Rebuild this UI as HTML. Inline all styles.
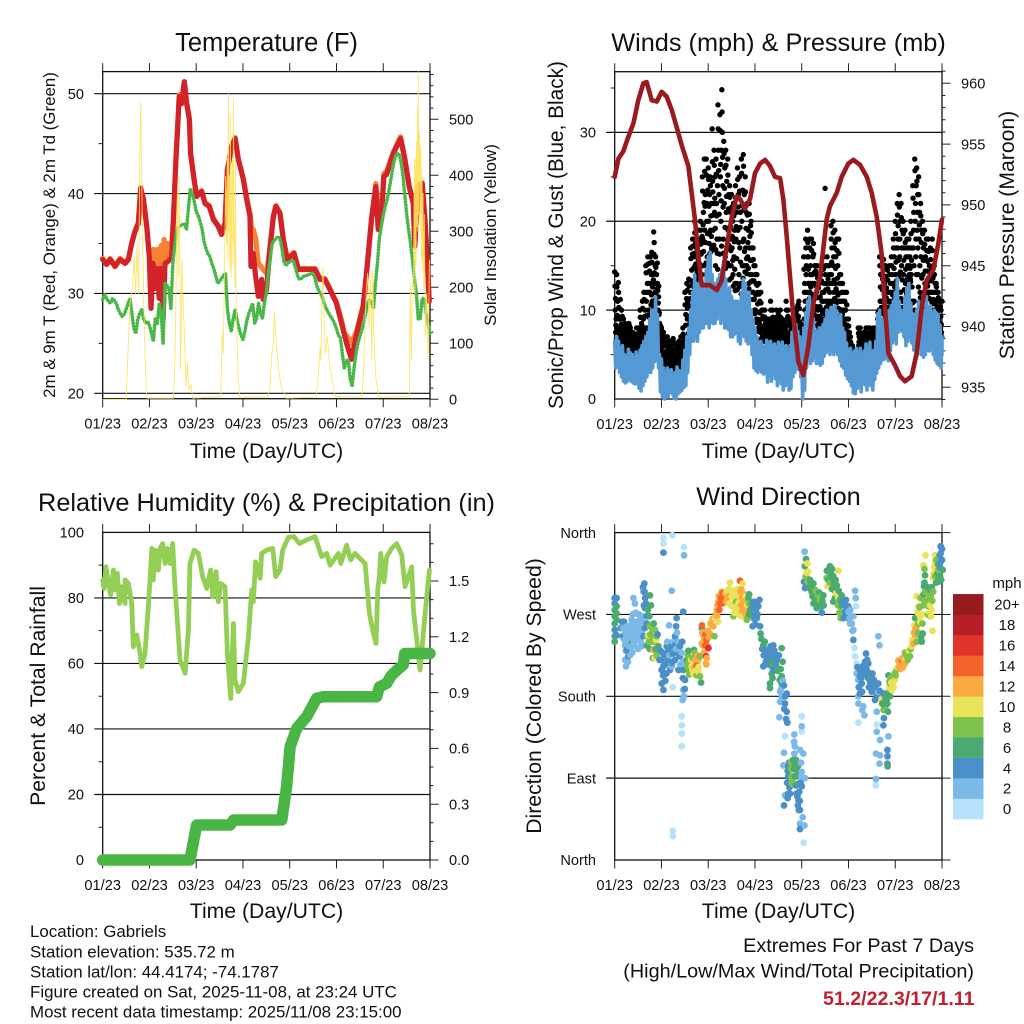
<!DOCTYPE html>
<html>
<head>
<meta charset="utf-8">
<style>
html,body{margin:0;padding:0;background:#fff}
svg{display:block}
text{font-family:"Liberation Sans",sans-serif;fill:#111}
</style>
</head>
<body>
<svg id="fig" xmlns="http://www.w3.org/2000/svg" width="1024" height="1024" viewBox="0 0 1024 1024">
<rect x="0" y="0" width="1024" height="1024" fill="#fff"/>
<text x="266.5" y="51" font-size="25.5" text-anchor="middle">Temperature (F)</text>
<text x="778.5" y="51" font-size="25.3" text-anchor="middle">Winds (mph) &amp; Pressure (mb)</text>
<text x="266.5" y="511" font-size="25.3" text-anchor="middle">Relative Humidity (%) &amp; Precipitation (in)</text>
<text x="778.5" y="505" font-size="25.3" text-anchor="middle">Wind Direction</text>
<text x="266.5" y="458" font-size="21.2" text-anchor="middle">Time (Day/UTC)</text>
<text x="778.5" y="458" font-size="21.2" text-anchor="middle">Time (Day/UTC)</text>
<text x="266.5" y="918" font-size="21.2" text-anchor="middle">Time (Day/UTC)</text>
<text x="778.5" y="918" font-size="21.2" text-anchor="middle">Time (Day/UTC)</text>
<text transform="translate(55,235) rotate(-90)" font-size="16.9" text-anchor="middle">2m &amp; 9m T (Red, Orange) &amp; 2m Td (Green)</text>
<text transform="translate(496,235) rotate(-90)" font-size="17" text-anchor="middle">Solar Insolation (Yellow)</text>
<text transform="translate(563,235) rotate(-90)" font-size="20.8" text-anchor="middle">Sonic/Prop Wind &amp; Gust (Blue, Black)</text>
<text transform="translate(1014,235) rotate(-90)" font-size="21.2" text-anchor="middle">Station Pressure (Maroon)</text>
<text transform="translate(45,696) rotate(-90)" font-size="21.2" text-anchor="middle">Percent &amp; Total Rainfall</text>
<text transform="translate(541,696) rotate(-90)" font-size="21.2" text-anchor="middle">Direction (Colored By Speed)</text>
<text x="30" y="937" font-size="16.9">Location: Gabriels</text>
<text x="30" y="957.5" font-size="16.9">Station elevation: 535.72 m</text>
<text x="30" y="977.5" font-size="16.9">Station lat/lon: 44.4174; -74.1787</text>
<text x="30" y="997.5" font-size="16.9">Figure created on Sat, 2025-11-08, at 23:24 UTC</text>
<text x="30" y="1017.5" font-size="16.9">Most recent data timestamp: 2025/11/08 23:15:00</text>
<text x="974" y="952" font-size="19.8" text-anchor="end">Extremes For Past 7 Days</text>
<text x="974" y="977.5" font-size="19.8" text-anchor="end">(High/Low/Max Wind/Total Precipitation)</text>
<text x="974.5" y="1005" font-size="19.6" font-weight="bold" text-anchor="end" style="fill:#c1202c">51.2/22.3/17/1.11</text>
<text x="1007" y="588" font-size="15" text-anchor="middle">mph</text>
</svg>
<script>
var xTickLabels=["01/23","02/23","03/23","04/23","05/23","06/23","07/23","08/23"];
var tempTicks=[20,30,40,50];
var solarTicks=[0,100,200,300,400,500];
var windTicks=[0,10,20,30];
var pressureTicks=[935,940,945,950,955,960];
var rhTicks=[0,20,40,60,80,100];
var precipTicks=[0,0.3,0.6,0.9,1.2,1.5];
var directionTickDegrees=[0,90,180,270,360];
var directionTickLabels=["North","East","South","West","North"];
var speedLabels=["0","2","4","6","8","10","12","14","16","18","20+"];
var speedColors=["#b8e2fa","#7cb9e8","#4b8fc8","#4baa72","#7ec24e","#e9e35a","#fbaa42","#f4632a","#e03329","#b71f28","#961c1f"];

var redHours=[0,2,3.8,6.3,8.9,11.5,13.2,14.9,16.6,18.3,19.5,20.9,22.6,23.9,24.8,25.8,27,28,29,30,31,32,33.5,35.4,36.3,37.6,39.3,40.5,41.9,43.1,44.5,45.1,46.9,48.2,50.8,52.5,54.7,56.8,59.3,61,62.8,64,65.3,66.2,68,69.6,72.2,73.9,75.6,76.1,77.3,78.5,79.9,81.6,82.4,84.1,85.8,87.6,88.9,91,92.7,94.7,98.2,100.4,104.7,109,111.5,114,116.6,120,122.6,125.2,127.7,130.3,133.7,135.4,138,140.2,141.4,143.1,144.3,145.7,149.1,152.9,155.1,157.3,159.4,160.2,161.9,164,165.4,166.6,167.6];
var redTemps=[33.4,32.9,33.4,32.7,33.4,33,33.4,35,36.2,37,40.5,39.4,36.7,33.7,28.5,33,30.5,32.5,29.5,32.5,27.4,33,33.2,33.6,37.4,43.4,49.7,49,51.2,49,47.4,44,41.4,39.7,40.2,39,38.7,37.4,36.7,35.9,37,42.4,43.7,44.7,45.5,43.4,41.4,39.4,37.7,32.7,34,31.7,29.7,31.4,29.4,30.4,34.4,37.7,38.7,38,35.4,33.4,34,32.4,32.4,32.4,31.4,31.4,30.4,29,27,25,23.4,25.9,28.7,32,37.4,40.7,36.4,37.7,41.7,41.9,44,45.5,43.4,40.7,39,34.7,40.7,41,37.4,33.4,29.2];
var orangeHours=[0,2,3.8,6.3,8.9,11.5,13.2,14.9,16.6,18.3,19.5,20.9,22.6,23.9,24.5,26,27,28,29,30,31,31.5,32.5,33,34,35.4,36.3,37.6,39.3,40.5,41.9,43.1,44.5,45.1,46.9,48.2,50.8,52.5,54.7,56.8,59.3,61,62.8,64,65.3,66.2,68,69.6,72.2,73.9,75.6,76.5,77.3,78.5,79.9,81.6,83.2,84.1,85.8,87.6,88.9,91,92.7,94.7,98.2,100.4,104.7,109,111.5,114,116.6,120,122.6,124,125.2,127.7,129,130.3,133.7,135.4,138,140.2,141.4,143.1,144.3,145.7,149.1,152.9,155.1,157.3,159.4,160.2,161.9,164,165.4,166.6,167.6];
var orangeTemps=[33.5,33,33.5,32.8,33.5,33.1,33.5,35.1,36.3,37.1,40.6,39.5,36.8,34,32,34.4,33,34.4,32.5,34.8,33,35.4,33.5,35,33.8,34.8,37.6,43.6,49.9,49.3,51.2,49.1,47.5,44.1,41.5,39.8,40.3,39.1,38.8,37.5,36.8,36,37.1,42.5,43.8,44.8,45.6,43.5,41.5,39.6,38,36.5,36.4,35.5,33,32.6,32.2,32,34.5,37.8,38.8,38.1,35.5,33.5,34.1,32.5,32.5,32.5,31.5,31.5,30.5,29.1,27.3,26,25.8,25,25.6,26.2,28.8,32.1,37.6,41,38.5,38,42,42.2,44.1,45.7,43.5,40.8,39.1,34.8,40.8,41.1,37.5,33.5,29.3];
var dewPointHourly=[29.4,29.9,29.5,29.2,29,29.5,29.3,29,28.4,28,27.7,27.9,28.4,29,29.5,28,26.5,26,27.4,28,28.4,27.5,27,27.2,26.8,26,25.2,27.5,27,29,28,25,31,30.8,30.5,28.5,33,34.8,36.4,36.7,36.8,36.9,37,36.4,38.5,40.5,40,39.2,38.2,37.8,37.2,36.5,35.2,34.5,34,33.7,33,32.5,31.8,31,31.2,31.5,31.8,32,28.5,27,26.2,27.5,28.4,27.3,26.5,25.8,25.4,26.2,27.3,28,28.5,29,27,27.5,29,28,27.5,29,30,32,33.5,35,35.3,35.5,35.7,35.5,34.5,33.2,32.8,33,33.2,33.3,33.2,32.5,31.8,31.4,31.5,31.7,31.8,31.8,31.9,32,32,31.5,30.7,30.2,30,29.4,28.8,28.4,28,27.7,27.4,27,26.5,25.8,25.6,24,22.5,23.2,23.4,21.5,20.7,22.5,24,25,25.7,26.3,27,28,29,29.4,29,28.5,31,33,35.5,36.7,37.8,38.7,39.4,40.4,41.5,42.7,43.6,44,44,43.3,42,40,38,36.4,35,33.4,31.5,30,27.4,27.5,29.5,29.5,28,27,26];
var solarHours=[0,12,14,15.4,16.1,16.9,17.6,18.5,19,19.5,20,20.5,21.2,21.9,22.6,36.3,37.1,37.6,38.3,38.8,39.3,40,40.7,41.4,42.1,42.8,43.5,44.3,45.3,46.2,60.6,61.3,61.9,62.6,63.1,63.6,63.9,64.2,64.5,64.8,65,65.3,65.5,65.8,66,66.3,66.6,66.9,67.1,67.4,67.6,67.9,68.1,68.4,69,69.5,70.3,84.7,85.9,86.8,87.6,88.1,89,89.7,90.5,91.9,93.1,94.1,109.5,110.7,111.6,112.1,112.6,113.1,113.8,114.3,115.3,116.3,117.5,119.3,132.9,133.8,134.6,135.3,136,136.7,137.4,138.1,138.6,139.3,140.3,141.7,157.4,157.9,158.4,158.9,159.6,160,160.3,160.6,160.8,161.1,161.3,161.6,161.8,162,162.2,162.4,162.7,162.9,163.1,163.4,163.6,163.9,164.1,164.4,164.8,165.1,165.3,165.6,166.3,167,167.7];
var solarWatts=[0,0,171,201,255,189,273,189,427,529,398,279,160,58,2,2,70,189,368,219,398,52,249,160,100,23,64,17,26,2,5,118,82,249,398,279,430,250,546,300,400,230,505,260,219,410,427,240,534,280,308,200,427,189,100,40,4,4,23,82,100,157,100,76,46,20,11,2,4,40,94,70,189,237,130,82,112,70,40,5,4,40,130,195,225,130,225,70,231,100,35,4,5,207,70,195,225,427,189,430,240,460,308,520,300,585,330,480,469,300,450,427,250,400,230,368,195,330,240,112,189,70,249];

var gustPerQuarterHour=[
14.3,10,7.5,9, 14,8,11,7.5, 12,9,7,8, 9,7,10,6, 8,6.5,9,6, 7,8.5,6,5.5, 8,6,7,5.5, 6.5,8.5,5.5,7, 8,6,5.5,7, 6,7.5,5.5,6.5,
7,5,6,4.8, 6,8,5.5,7, 5.5,8,6.5,5, 10,7,6,8.5, 7.5,11,6.5,9, 12,8,10,7, 15,11,8,13, 16,10,13,8, 12,16,9.5,14, 16.5,11,14,10,
18.8,17.6,13,15, 16,12,14,11.5, 13,10,11.5,9.5, 8.5,6,7,5.5, 8,5,6.5,4.5, 7.5,4.5,6,3.5, 7,5,3.5,6, 7,4,5.5,3.5, 6.5,3.5,5,4, 6.5,4.5,5.5,3.5,
6.8,3,5,4, 6.3,4,3,5, 6,4,5,3.5, 6.5,5,3.5,4.5, 7,4,5.5,3.5, 8,5,6.5,4.5, 12,7,9.5,5.5, 13,9,11,7, 13.5,10.5,8,12, 17,12,14.5,10,
18,13,16,12, 20,15,17.5,14, 17,13.5,15,14, 19,14,16.5,12.5, 20,15,17.5,14, 25,18,21,15, 27,19,23,14, 27,20,16,23.5, 26,20,17.5,23, 25,19,22,17,
30.4,24.5,19,22, 28,21,25,15, 27,22,18,24, 33.1,28,23,18, 32,25,20,28, 34.8,30,24,18, 29,22,26,16, 28,21,24.5,17, 27,19,23,15, 24,18,21,15,
23,17,20,14, 22,16,19,13, 24,18,21,13, 26,19,23,14, 25,17,21,13, 27,20,15,23.5, 27.5,18,23,15, 25,17,21,15, 22,16,19,13, 22,17,14,19.5,
20,14,17,12, 17,12,15,10, 15,10,13,9, 14,9,12,8, 13,8.5,11,7.5, 12,8,10,7, 10,7,9,6.5, 10,7.5,8.5,6.5, 9,7,8,7.5, 9,6.5,8,7,
11,7,9,6.5, 10,7,8.5,7, 9,6.5,8,7.5, 10,6.5,8.5,7, 9.5,7,8,6, 10,7,8.5,6.5, 9,6.5,8,7, 8.8,7,8,6.5, 11,7.5,9,6.5, 10,6,8.5,6,
9,6.5,8,6.5, 9,7.5,8.5,8, 8,7,9,8.5, 9,8.5,10,9, 7.5,8,11,10.2, 7,5.5,8,6, 5,4,3,2, 16,9,13,11, 18,14,10,16, 19,13,16,12,
18,12,15,13, 18,11,14,16, 17.5,10,13,15, 15,9,12,14, 15,10,12.5,8.5, 14,9,11.5,8.5, 14,10,12,9, 16,11,13,9, 23.7,15,11,13, 16,11,13.5,10,
15,11,13,10, 19.5,14,17,11, 20,15,12,17, 19,13,16,11, 18,12,15,11, 18,11,14,10, 14,10,12,9.5, 13,9,11,8.5, 12,8,10,7.5, 12,7,9,6.5,
9,6,7.5,5.5, 7,5,6,5.5, 6,4.5,5.5,3.5, 5,3.5,4.5,2.5, 5,4,4.5,3, 8,6,7,5, 8,5.5,7,5, 7,5,6,4, 7.5,5.5,6.5,4.5, 8,6,7,5.5,
8,6,7,5, 8,6,7,5.5, 7.5,5.5,6.5,5, 8,6,7,5.5, 8,6.5,7.5,6, 9,6,8,10, 16,11,14,10, 16,11,13.5,10, 15.7,10,13,12, 15,10,12.5,9,
14.5,10,12,9.5, 15,11,13,10.5, 16,12,14,11, 18,13,16,12, 20,14,17,12.5, 22,17,19.5,14, 23,16,20,12, 22,15,19,11, 20,14,17,10, 19,13,16,12,
18,13.5,16,13, 18,14,16,13.5, 20,14,17,11, 24,17,21,11, 27,20,16,24, 26,19,23,14, 25,18,21,12, 22,16,19,11, 20,14,17,10, 19,13,16,11,
18,13,15.5,12, 18,12,15,10, 17,12,14.5,11, 18,12,15,10, 15,11,13,10, 13,10,12,9.5, 12,9,11,8, 11,8,10,7.5, 11];
var gustOffsetReadings=[
12.7,11.3,8.3,6.8, 12.6,9.4,6.7,13.1, 10.3,7.7,6.3,11.2, 7.6,8.4,6.4,9.3, 7.3,5.7,8.3,6.8, 7.6,6.4,5.2,8.2, 6.6,7.4,5.2,7.8, 7.8,6.2,8.2,5.8, 6.4,7.4,5.7,6.7, 6.6,5.3,7.1,5.8,
6.4,5.4,5.7,6.8, 7.3,5.6,6.3,5.2, 7.2,6.1,5.3,7.6, 9.2,7.7,6.3,8, 8.2,10.2,7,6.4, 11.2,9.3,7.6,6.7, 14.2,12,9.4,7.3, 15.2,12,9.2,14.4, 15.3,13,10.6,11.7, 15.4,12.6,10.4,13.4,
16.3,14.2,12,11.2, 14.8,13,12.4,15.3, 12.2,10.8,12.7,9.7, 7.7,6.4,8.2,5.2, 7.3,5.8,4.7,6.9, 6.7,5.2,3.8,4.2, 6.2,4.3,5.4,3.2, 6.4,4.6,3.2,5.1, 5.7,4.2,3.3,6.1, 5.2,6.1,3.8,4.3,
6.3,4.6,3.4,5.6, 5.6,4.4,3.3,5.2, 5.3,4.6,3.8,5.7, 5.7,3.8,4.2,6.2, 6.3,4.6,3.3,5.2, 7.3,5.7,4.8,6.2, 10.6,8.3,6.3,11.3, 12.2,10.2,8.3,7.4, 12.7,9.3,11.3,8.6, 15.8,13.3,11.2,16.3,
17.2,14.7,12.6,16.4, 18.7,16.3,15.2,14.6, 16.2,14.4,13.3,15.7, 18,15.3,13.3,17.4, 19,16.3,15,18.3, 23.4,19.6,16.6,22.1, 25.6,21.7,17.6,15.3, 25.2,22,18.6,15.2, 24.7,21.7,18.7,16.4, 24,20.6,18.3,16.7,
26.7,23.3,20.7,17.3, 26.3,22.6,19.2,16.8, 25.3,20.6,16.4,14.6, 30.4,25.7,20.8,16.3, 30.2,26.4,22.3,17.2, 32.3,27.2,21.6,16.4, 27.6,23.7,19.3,14.7, 26.3,22.8,19.2,15.3, 25.2,21.4,17.3,13.4, 22.7,19.4,16.7,13.6,
21.6,18.3,15.6,12.7, 20.6,17.7,14.6,12.2, 22.6,19.4,15.8,12.3, 24.7,21.6,17.6,12.6, 23.4,19.3,15.4,11.8, 25.4,21.8,17.7,13.6, 26.2,21.3,16.6,14.3, 23.3,19.2,15.8,14.1, 20.7,17.6,14.7,12.4, 20.8,18.3,15.6,13.2,
18.7,15.6,13.3,11.2, 15.7,13.3,11.2,9.6, 14,11.7,9.8,8.6, 12.8,10.7,8.7,7.6, 11.8,9.7,8,6.7, 10.8,9,7.6,6.8, 9.3,7.8,6.7,8.3, 9.2,8,6.7,7.1, 8.4,7.3,7.7,6.9, 8.3,7.4,6.8,8.6,
10,8.2,7.4,6.8, 9.2,7.7,6.4,8, 8.6,7.2,6.8,7.7, 9.2,7.7,6.2,6.7, 8.7,7.4,6.6,9, 9.2,7.7,6.3,8.3, 8.3,7.4,6.6,7.7, 8.3,7.3,6.2,7.7, 10,8.3,7,9.3, 9.2,7.4,5.6,6.6,
8.4,7.3,6.3,7.7, 8.7,8.2,7.7,9.2, 9.7,8.3,9.3,8.8, 9.6,9.3,10.3,8.8, 10.6,9.3,7.8,8.7, 7.6,6.7,7.3,8.4, 4.4,3.3,2.4,1.2, 14.6,12,10,8.4, 17,15,12,10.3, 17.6,14.6,13,11.3,
17,14,12.6,11.8, 16.7,13,11.6,9.8, 16.3,14.2,11.6,9.4, 14.4,12.7,10.4,8.3, 13.6,11.4,9.3,7.9, 13,10.4,9,8.2, 13.3,11,9.6,8.4, 14.6,12,10,8.8, 14,12.3,10.3,9.4, 15,12.4,10.7,9.7,
14,12,10.6,9.9, 18,15.4,13,11, 18.7,16,13.4,11.3, 17.6,14.7,12.4,10.8, 16.7,13.6,11.7,10.2, 16.4,13,11,9.4, 13,11,10,9.7, 12,10,9,8.2, 11,9,8.3,7.7, 10.6,8.3,7.4,6.6,
8.2,6.7,5.8,5.6, 6.4,5.7,5.3,5.9, 5.7,5,3.9,4.2, 4.7,4,3,3.7, 4.7,3.7,4.2,3.3, 7.4,6.4,5.5,6.8, 7.4,6.3,5.3,6.7, 6.4,5.4,4.6,5.7, 7,6,5,6.3, 7.4,6.4,5.7,6.8,
7.4,6.4,5.5,6.8, 7.4,6.5,5.8,6.8, 7,6,5.3,6.2, 7.4,6.3,5.8,6.8, 7.7,7,6.3,6.8, 9.7,8.6,7,6.6, 15,12.6,11,10.3, 15,12.3,11,9.6, 14.6,11.7,10.6,9.3, 13.8,11.4,9.7,8.3,
13.4,11,10.3,9.2, 14,12,11,10.2, 15,13,11.7,10.7, 17,14.7,12.6,11.3, 18.6,15.4,13.3,12.2, 20.7,18,15.6,13.8, 21.6,18,14.3,11.3, 20.4,17,13.4,10.3, 18.6,15.6,12.3,9.8, 17.6,14.6,13,11.7,
17,15,13.8,12.7, 17,15,14.7,13.2, 18.6,15.6,12.6,10.8, 22.6,19,15,10, 25.7,22,18,14, 24.5,21,17,12.6, 23,19.6,15,11.4, 20.6,17.6,13.6,10.2, 18.6,15.6,12,9.7, 17.4,14.4,12,10.2,
16.7,14.4,12.7,11.4, 16.6,13.7,11.3,9.7, 15.7,13.3,12,10.7, 16.7,13.6,11.2,9.3, 14,12,10.7,9.4, 12.6,11,10.4,8.9, 11.4,10,8.6,7.7, 10.4,9.3,8.4,7];
var windHighHourly=[6.5,7,6.5,5.5,6,5,4.8,5.6,5.2,5,4.5,5.3,4.8,5.5,6,6.5,7,7.5,9,10,10,11.5,9.5,5,4.5,3.5,2.8,3.5,3.2,3.3,2.8,3,3.6,3.2,3,4.4,5.5,7,8,10,12,14,13,12,14,13,12.5,14.5,16,16.5,14,13,13,13.5,14,14.5,14.3,13.5,12,12.5,11.5,11,11,11,10.5,12,13.5,13,11.5,12,10,9,8,7,6,6.5,6,5.8,6.6,6.3,6.5,6,6.2,5.5,6.4,6,6.4,5.9,6,5,6,7.5,8,8.4,7.6,7,4,8,9.7,11,11.5,9.5,9,7.7,7.5,8,8,8.4,9,10,9.7,10.3,10.3,10.5,9.9,9,9.5,8,7.5,6.3,5.5,5.7,5,5.4,5.7,5.2,5.7,5,5.4,6.2,5.7,6.4,5.2,5.5,6.5,9.6,10,9,9,8,9,10,10.5,11,12,13.6,11,10,9.5,11.5,12.5,13,10.8,9.5,9.5,10,11,10,9.5,10,11.5,9.5,10.5,9,10,9.7,9.5,8.3,7];
var windLowHourly=[3.5,3.8,3,2.5,2,1.8,2,2.2,2,1.8,1.7,1.8,1.2,0.9,1.5,2,2.5,3,3,3.5,4.2,4.5,3.5,0.8,0.3,0,0.2,0.3,1,0.6,0.1,0,0.6,0.8,1,1.3,1.5,3,5,6.5,6.5,7,6.5,7.5,8,8,8.5,8.5,8,8.7,8.5,8.5,9,9.5,8.5,9,8,8,7.8,7,7,7.3,7.5,6.5,6.2,7.2,7,6.5,6.2,6.3,5,3.5,3.2,3,3.3,3,2.8,3,1.9,3.2,2,3,2.3,1.5,2.7,1.7,1,1.5,2,1,1.2,2.5,3,3.5,3.3,2.5,0,1,3.5,5,4,4.3,5,4,4,3.8,4,4.8,5.2,5.5,5,5.4,5,5.4,5,4.3,3.7,3.5,2.7,2.3,2,1.5,0.7,0.6,1.2,1.6,0.8,2,1.6,1,2,1.5,1,2.2,2.9,3.5,4,4.4,4.5,4.7,4.3,5.4,6.3,6.7,6.2,7.5,7.8,7.6,7,6,6.5,7,6.3,5.5,5.3,5,6.2,5,4.7,5,5.5,5.4,6,5,4.4,4,3.8,3.5,5];
var pressureHours=[0,1.9,4.4,7,9.6,12.1,14.7,16.4,19,21.6,24.1,26.7,29.3,31.8,34.4,37.8,39.5,41.2,42.9,44.7,48.9,52.4,54.9,57.5,60.1,62.6,64.3,66.9,69.5,72,74.6,77.2,79.7,82.3,84.9,86.6,88.3,90,91.7,94.3,96.8,99.4,102,105.4,108.8,110.5,114,116.5,119.9,122.5,125.9,129.4,131.9,134.5,137,138.8,140.5,143.9,146.5,149,152.4,155,157.6,160.1,163.6,166.1,168];
var pressureValues=[952.3,953.8,954.4,955.6,956.7,958.6,960,960.1,958.6,958.5,959.3,958.9,957.8,956.4,954.9,953.2,951,948.8,945.8,943.4,943.4,943,943.8,946.6,949,950.7,950.5,949.7,950.5,952.6,953.4,953.7,953.2,952.3,952.2,950.4,947.4,944.1,940.8,937.1,936,938.4,941.9,944.1,948.8,949.9,951,952.3,953.4,953.7,953.3,952.3,951,949,946,941.4,937.8,936.8,935.9,935.5,935.9,937.8,941.6,943.8,944.7,946.8,948.8];

var rhHours=[0,0.7,1.7,2.9,4.1,5.5,6.3,7.5,8.6,9.8,11.5,11.5,13.2,14.9,15.7,17.5,19.2,20,21.7,23.4,24.3,25.2,26,26.9,28.6,29.4,30.8,32,33.2,34.6,35.9,37.1,38.3,39.7,42.3,44,44.8,46.9,49.1,51.3,53.4,55.4,56.5,58.2,59.4,60.6,62.8,64,65.7,67.1,67.9,69.6,72.2,74.8,76.5,77.3,78.5,80.8,81.6,84.2,87.3,88.8,91,92.4,95.3,98.2,101,104.7,109,112.4,115,116.7,121,122.2,125.2,127.3,129.5,134.7,136.9,138.9,140.3,141.2,142,142.7,144.4,145.8,148.3,150.9,153.5,155.2,158.6,159.5,162.9,165.5,167.7];
var rhValues=[85.5,82.9,89.5,84.4,80.9,88.5,82.4,87.5,78.3,83.4,78.3,85.5,84.4,78.3,65.1,68.7,63,59,63,77.3,85.5,95.1,85.5,94.6,88.5,95.1,96.6,90.5,95.1,90.5,96.6,83.4,73.2,61,57,70.2,90.5,94.6,93.6,86.5,82.9,88.5,80.4,88,78.8,84.4,83.4,63,49.3,72.2,54.9,51.4,53.9,68.2,82.4,78.8,91,86,93.6,94.6,95.1,86.5,88.5,94.6,98.5,98.7,96.6,97.7,98.7,92.6,93.6,90,93.6,90.5,96.1,91.6,93.6,90.5,75.3,69.2,66.1,82.9,86.5,93.6,84.9,92.6,95.1,96.6,93.1,83.4,89.5,76.3,58,75.3,88.5];
var precipHours=[0,44.8,48.2,65.4,67.1,91.9,94.4,96.2,99.6,104.7,109.8,113.3,140.6,142,145.8,148,151,154.3,155,168];
var precipInches=[0,0,0.188,0.188,0.215,0.215,0.394,0.609,0.708,0.771,0.869,0.878,0.878,0.93,0.95,0.99,1.02,1.05,1.11,1.11];

var dirHours=[
0,0,0,0,0,0,0,0,1,1,1,1,1,
3.1,4.1,4.4,5.3,5.3,6.2,5.8,7,8.7,8.7,9.6,10.4,11.3,11.3,13,13.9,10.4,12.1,8.7,7,10.4,12.1,13.9,14.7,15.6,15.2,15.6,16.4,14.7,13.9,7.9,9.6,7.9,13,10.4,6.2,
18.1,18.6,17.8,18.1,17.3,19,20.7,21.2,19,19.8,20.4,22.4,21.6,16.4,
24.1,25,25.8,25,24.1,26.7,27.5,28.4,31,31,31.8,31.5,31,33.5,33.5,35.2,27.9,29.8,32.7,35.2,35.2,34.9,34.4,34.4,34.4,34.4,36.1,29.8,25,25,25,29.6,35.6,35.6,29.3,29.8,29.8,26.7,29.3,24.1,
37,37.3,38.3,39.5,41.2,42.1,42.9,40.7,42.9,43.8,44.3,40.4,43.8,39,40.4,
44.8,44.7,45.5,44.7,47.2,48.1,46.9,46.9,47.2,48.9,50.6,51.2,51.5,46.4,
52.4,53.2,54.1,53.7,55.8,56.6,58.3,59.2,60,54.9,52.7,57.5,54.9,
61.8,63.5,64.3,65.7,66,66.9,67.8,62.6,60.9,65.2,67.8,69.5,70.3,68.6,72,73.7,74.3,70.8,72.9,60,63.5,66,65.2,61.8,64.3,
74.6,74.9,76.3,77.2,78,76.3,81.4,82.3,80.6,80.6,79.7,79.7,83.2,85.7,86.2,85.7,85.7,84.9,88.3,87.4,88.3,84.9,84.5,88.6,86.9,
87.4,86.9,86.6,89.1,89.1,90.9,90.9,92.6,94.3,93.4,94.3,89.1,87.4,86.9,93.4,94.3,95.1,96,95.1,96.8,96,96,96,92.1,92.2,96.5,95.1,97.4,95.1,97,97.7,96,
97.5,98.2,98.9,99.4,97.2,97.7,100.3,102,102.8,101.1,103.7,105.4,106.3,102,107.1,103.7,106.3,
110.5,110.5,108.8,112.2,114.8,109.2,112.2,114,113.6,114.8,116.5,115.7,112.2,116,118.7,119.9,119.9,118.2,
123.4,123.7,123.9,122.5,121.7,122.5,122.5,123,123.4,124.2,
124.2,125.9,126.8,125.9,125.1,127.6,128.2,125.1,129,130.2,129.4,131.9,132.8,131.9,135.3,135.3,133.6,135.3,135.9,134.5,
137,137.9,138.8,139.6,134.5,134.5,136.2,138.2,137.9,140.5,134.1,136.2,135.9,140,140,140,140.1,134.1,134,141.3,
140.5,141.3,143,143.9,142.2,141,144.7,146.5,147.3,149,149.9,151.6,152.4,154.2,155,155.9,156.7,155.9,155,158.1,157.6,154.2,158.4,161,161.9,162.7,161.9,163.1,158.4,159.3,158.8,161,163.6,164.4,164.4,166.1,167.3,167.3,167.3,167,168.4,166.1];
var dirDegrees=[
288,282,275,268,260,253,246,240,288,279,271,264,247,
255,246,255,236,220,231,213,224,264,246,288,282,271,253,264,249,235,242,238,249,260,257,268,295,288,304,277,268,246,235,225,253,255,249,247,257,
291,280,268,257,247,255,253,242,240,231,222,235,246,236,
220,213,205,187,194,235,220,209,236,220,266,257,246,235,224,273,258,227,209,209,187,176,158,148,139,125,198,190,354,348,338,357,344,335,296,32,26,227,213,209,
220,213,209,213,220,214,220,231,207,202,195,205,224,216,214,
258,255,247,238,242,233,224,216,222,249,257,246,266,236,
275,284,291,275,291,286,290,305,279,282,280,295,295,
286,293,307,304,293,282,275,277,268,268,264,275,282,288,269,279,286,257,266,290,282,277,288,277,275,
257,249,236,231,224,213,236,224,213,205,194,189,220,233,218,202,194,185,183,172,163,174,157,151,192,
136,118,104,103,92,92,84,104,104,92,84,73,71,60,73,66,55,97,121,117,141,158,147,130,117,47,40,38,34,19,90,81,
339,331,326,317,306,299,308,304,297,295,290,286,279,282,291,277,272,
323,313,310,312,318,301,299,302,293,288,291,279,284,266,286,279,266,273,
296,288,279,268,260,253,242,233,224,216,
205,202,194,183,172,169,159,151,227,216,209,202,194,185,194,185,176,246,236,163,
177,183,169,174,149,141,132,156,148,136,117,115,106,121,114,106,103,89,82,180,
203,194,202,198,187,189,209,216,220,216,224,224,235,247,257,260,268,279,290,249,240,266,280,286,297,275,268,252,324,313,301,279,315,335,326,319,345,337,328,312,319,306];
var dirSpeeds=[
4,5,6,6,6,5,6,7,4,6,6,6,4,
4,4,3,3,3,4,2,4,2,3,2,2,3,2,2,3,3,3,6,2,2,2,3,3,4,4,4,4,4,2,2,2,2,2,2,2,
6,6,7,8,10,8,8,10,8,12,10,7,8,6,
4,4,4,4,4,4,4,4,4,4,4,4,4,4,4,4,2,4,4,4,3,3,1,1,1,1,4,1,0,0,4,0,1,3,2,0,0,4,3,4,
7,8,9,10,13,14,12,6,10,8,7,10,8,8,10,
15,6,12,12,14,17,17,12,12,12,12,8,11,14,
12,12,13,15,15,15,12,10,10,14,13,10,12,
10,10,14,10,12,12,12,10,8,10,8,7,6,6,5,4,4,4,4,10,10,12,12,10,10,
4,6,6,4,4,4,4,4,6,6,6,6,4,6,6,6,6,3,4,4,4,3,3,4,4,
1,3,3,4,4,8,8,6,6,6,6,4,3,4,4,4,4,3,3,2,1,1,2,2,3,3,3,2,4,1,3,4,
3,6,10,10,4,4,7,7,6,7,7,8,6,6,7,6,5,
6,8,8,7,10,10,6,6,10,10,6,8,6,8,4,4,4,5,
3,2,1,3,3,3,4,1,1,1,
3,4,4,4,3,3,3,1,4,4,4,7,4,4,4,3,4,3,3,3,
10,4,7,6,1,2,2,4,4,3,3,2,3,4,4,4,6,3,1,7,
7,8,9,10,10,10,8,13,15,12,8,9,10,12,13,9,10,10,10,7,7,6,8,8,7,10,8,10,10,7,7,8,10,10,10,8,4,4,4,6,6,6];
var dirExtraHourDegreeSpeed=[
3.8,262,4, 5,242,3, 5.8,230,3, 6.7,240,2, 7.4,235,3, 7.8,245,2, 8.2,258,2, 8.8,235,2, 9.2,270,2, 9.5,262,2, 10,240,3, 10.8,272,2, 11,262,2, 11.7,246,2, 12.5,270,2, 12.8,255,2, 13.3,240,2, 12,232,3, 9,228,3, 6.8,218,3, 4.8,262,4, 5.5,250,3, 6,248,3,
14.5,300,4, 15,280,4, 15.3,295,4, 16,282,4, 16.5,260,5, 15.4,255,4, 14.2,262,3,
17,275,6, 17.5,258,7, 18.3,248,8, 18.6,240,8, 18,232,7, 19.4,245,8, 20,260,7, 20.2,240,9, 21,232,7, 21.5,225,8, 19.6,222,6, 22,248,5, 16.8,246,8, 17.6,240,9,
23,220,4, 23.5,230,4, 24.5,228,4, 25.5,225,4, 26,215,4, 26.5,205,4, 27,240,3, 27.5,230,4, 28,225,3, 29,235,4, 29.5,217,4, 30,240,3, 30.5,228,4, 31.5,232,3, 32,250,3, 32.5,240,3, 33,226,4, 33.8,215,3, 34.3,228,3, 34.7,240,4, 35,218,3, 26,197,4, 24.8,203,4, 36,188,4, 35.5,180,3, 35,200,4,
37.5,225,8, 38,218,9, 38.5,220,9, 39.3,220,10, 40,209,10, 40,222,9, 41,212,12, 41.7,208,10, 42.4,225,12, 43,212,10, 38.2,204,8, 36.8,210,7, 37.8,230,7, 41,228,8, 42,203,8,
45,250,12, 45.3,236,12, 45.8,228,12, 46,243,12, 46.6,248,14, 47.5,235,15, 47.8,252,12, 48.3,245,12, 49.2,260,12, 49.8,258,13, 50.2,265,12, 47,215,12,
52.6,268,12, 53,275,13, 53.4,290,12, 54,282,15, 54.5,288,14, 55,285,15, 55.4,293,14, 56,283,14, 56.8,293,13, 57.3,284,12, 57.8,288,12, 58.7,282,10, 59.5,297,10, 58.7,298,10, 53,262,10, 52,270,12,
60.6,282,10, 61,296,10, 61.5,272,10, 62,292,10, 62.4,284,8, 63,272,10, 63,298,10, 63.5,270,11, 64,284,10, 64.6,295,12, 64.8,280,12, 65,298,12, 65.5,274,12, 65.8,282,13, 66.4,287,12, 66.5,268,11, 67.3,290,10, 67.4,270,12, 68,280,10, 68.3,266,8, 69,282,8, 69,270,7, 70,270,6, 69,292,6, 71,278,5, 71.5,284,4, 71.7,265,4, 72.5,275,4, 73,283,4, 73.3,270,4, 72.2,259,4,
75.3,243,6, 75.7,232,4, 76.5,225,4, 77,240,6, 77.6,218,4, 78.6,230,4, 79,215,4, 79.5,222,4, 80,235,4, 80.4,227,4, 81,218,6, 81,200,6, 81.5,209,4, 82,230,4, 82.8,215,4, 83.6,208,6, 84.3,225,4, 84.7,198,6, 85.2,210,6, 85.4,188,3, 85.9,179,3, 86.3,197,3, 87,166,4, 87.5,180,4, 88,155,4,
88.8,98,4, 89.5,107,4, 90,100,6, 90.5,107,8, 90.8,100,8, 91.2,86,8, 91.6,110,6, 92,100,6, 92.5,92,6, 93,110,6, 93,82,4, 93.8,98,6, 93.8,70,4, 94.7,75,4, 94,60,4, 94.5,55,4, 95,65,4, 89.7,80,4, 88.5,85,4, 88.8,68,4, 90,73,4, 95.4,85,4, 95.8,92,3, 95.6,107,3, 92.4,125,2, 92.2,138,3,
97.6,323,6, 98,312,8, 98.5,316,10, 99,306,8, 99.2,309,8, 99.8,300,7, 100.7,298,6, 101,303,7, 101.5,290,6, 102.2,296,7, 102.4,288,6, 103,285,6, 103.2,296,8, 104,283,7, 104.4,291,8, 105,280,6, 105,294,7, 105.8,290,8, 106.6,285,7, 107.3,280,6,
108.9,318,7, 109.5,308,7, 110,320,7, 110.5,305,8, 111,315,7, 111.5,298,6, 111.2,311,7, 111.6,320,6, 112.6,305,7, 113,296,6, 113.4,308,6, 113,288,7, 114.2,292,10, 114.6,280,8, 115,296,6, 115.3,272,8, 115.6,286,6, 116.2,272,8, 116.5,280,7, 117,283,5, 117.5,266,4, 118,280,4, 118.8,272,4, 119.3,268,4, 120,273,3, 120.6,266,3, 121,275,3, 120.8,260,3, 121.5,268,3, 122,252,3,
124.6,212,4, 125,198,3, 125.3,190,4, 126,208,4, 126.5,200,4, 127,185,4, 127.3,213,4, 128,205,4, 128.5,218,4, 129,212,4, 129.6,220,4, 130,200,4, 130.5,190,4, 131,205,4, 131.2,195,4, 132,190,4, 132.3,205,4, 133,198,4, 133.5,187,4, 134,192,4, 134.5,180,4, 136,186,4, 125,180,3, 127,165,3,
137.3,172,6, 138,165,8, 138.3,170,7, 139,178,7, 139.2,165,8, 139.5,182,7, 140,172,7, 140.3,163,6, 140.6,185,7, 141,196,8, 141.6,200,8, 142,195,10, 142.6,192,10, 143.2,190,10, 143.7,205,8, 144.2,203,9,
145.2,212,10, 145.6,219,12, 146,212,12, 146.6,210,12, 147,214,13, 147.6,222,13, 148,212,12, 148.5,218,12, 149.4,222,10, 149,228,8, 150.4,220,8, 151,230,10, 152,232,8, 152.8,242,10, 153.2,238,12, 153.6,250,12, 153.8,258,10, 154.5,255,12, 155,240,8, 155.4,272,10, 155.7,250,8,
156.5,278,8, 156.8,262,10, 157,288,8, 157.3,245,7, 157.7,270,10, 158,260,8, 158.5,292,7, 158.8,285,8, 159,305,7, 159,320,8, 159.3,295,8, 159.5,335,10, 160,284,8, 160.5,300,7, 160.8,270,8, 161.5,272,10, 161.2,292,8, 161.8,280,10, 162.2,290,8, 162.4,268,10, 162.8,300,7, 163,285,8, 163.5,295,8, 163.5,310,10, 164,322,10, 164.4,312,8, 165,305,7, 165,330,8, 165.6,315,7, 166,325,6, 166.4,310,6, 166.8,335,4, 167,322,5, 167.6,308,6, 168,330,5, 168,342,4];

var svg=document.getElementById('fig');
var NS='http://www.w3.org/2000/svg';
function mk(tag,attrs,parent){
  var el=document.createElementNS(NS,tag);
  for(var k in attrs){el.setAttribute(k,attrs[k]);}
  (parent||svg).appendChild(el);
  return el;
}
function linear(d0,r0,d1,r1){return function(v){return r0+(v-d0)*(r1-r0)/(d1-d0);};}
function seq(start,stop,step){var a=[];for(var v=start;v<=stop+1e-9;v+=step){a.push(v);}return a;}
function pathFrom(xs,ys,fx,fy){
  var d='';
  for(var i=0;i<xs.length;i++){d+=(i?'L':'M')+fx(xs[i]).toFixed(2)+' '+fy(ys[i]).toFixed(2);}
  return d;
}

var panels={
  temp:{x0:102.7,x1:430,top:71.6,bot:398.7},
  wind:{x0:614.7,x1:942,top:71.7,bot:399},
  rh:{x0:102.7,x1:430,top:532.4,bot:860},
  dir:{x0:614.7,x1:942,top:532.6,bot:860}
};
for(var key in panels){panels[key].sx=linear(0,panels[key].x0,168,panels[key].x1);}

var tempY=linear(20,393.3,50,93.7);
var solarY=linear(0,399.3,500,119.3);
var windY=linear(0,399,30,132.4);
var pressY=linear(935,387.3,960,83.3);
var rhY=linear(0,860,100,532.4);
var precipY=linear(0,860,1.5,581);
var dirY=linear(0,860,360,532.6);

function drawPanelFrame(p,name,gridVals,yFn,leftMinor,rightMajor,rightMinor,rightFn){
  var d='';
  gridVals.forEach(function(v){var y=yFn(v);d+='M'+(p.x0-8.5)+' '+y+'L'+p.x1+' '+y;});
  var grid=mk('path',{d:d,stroke:'#111','stroke-width':1.2,fill:'none'});
  
  
  d='';
  seq(0,168,24).forEach(function(h){
    var x=p.sx(h);
    d+='M'+x+' '+p.top+'V'+(p.top-8.5)+'M'+x+' '+p.bot+'V'+(p.bot+8.5);
  });
  leftMinor.forEach(function(v){d+='M'+p.x0+' '+yFn(v)+'h-4';});
  rightMajor.forEach(function(v){d+='M'+p.x1+' '+rightFn(v)+'h8.5';});
  rightMinor.forEach(function(v){d+='M'+p.x1+' '+rightFn(v)+'h3.5';});
  var ticks=mk('path',{d:d,stroke:'#222','stroke-width':1,fill:'none'});
  
  
  var frame=mk('rect',{x:p.x0,y:p.top,width:p.x1-p.x0,height:p.bot-p.top,fill:'none',stroke:'#111','stroke-width':1.3});
  
  
  xTickLabels.forEach(function(lbl,i){
    var t=mk('text',{x:p.sx(i*24),y:p.bot+30,'font-size':14.6,'text-anchor':'middle'});
    t.textContent=lbl;
    
    
  });
}
function yLabels(name,vals,labels,fn,x,anchor){
  vals.forEach(function(v,i){
    var t=mk('text',{x:x,y:fn(v)+5.2,'font-size':14.6,'text-anchor':anchor});
    t.textContent=labels[i];
    
    
  });
}

/* temperature panel */
var P=panels.temp;
drawPanelFrame(P,'temperature',tempTicks,tempY,[25,35,45],solarTicks,seq(0,580,20),solarY);
yLabels('temperature-y',tempTicks,tempTicks,tempY,84,'end');
yLabels('insolation-y',solarTicks,solarTicks,solarY,449,'start');
var orangeLine=mk('path',{d:pathFrom(orangeHours,orangeTemps,P.sx,tempY),fill:'none',stroke:'#f58233','stroke-width':5.2,'stroke-linejoin':'round','stroke-linecap':'round'});


var redLine=mk('path',{d:pathFrom(redHours,redTemps,P.sx,tempY),fill:'none',stroke:'#d2232a','stroke-width':5.2,'stroke-linejoin':'round','stroke-linecap':'round'});


var dewHours=dewPointHourly.map(function(v,h){return h;});
var dewLine=mk('path',{d:pathFrom(dewHours,dewPointHourly,P.sx,tempY),fill:'none',stroke:'#4bb649','stroke-width':3.7,'stroke-linecap':'round','stroke-linejoin':'round','stroke-dasharray':'0 3'});


var solarLine=mk('path',{d:pathFrom(solarHours,solarWatts,P.sx,solarY),fill:'none',stroke:'#fde25a','stroke-width':0.9,'stroke-linejoin':'round',opacity:0.9});



/* winds panel */
P=panels.wind;
drawPanelFrame(P,'winds',[10,20,30],windY,[5,15,25,35],pressureTicks,seq(934,965,1).filter(function(v){return pressY(v)>=P.top-1&&pressY(v)<=P.bot+1;}),pressY);
yLabels('wind-y',windTicks,windTicks,windY,596,'end');
yLabels('pressure-y',pressureTicks,pressureTicks,pressY,961,'start');
gustPerQuarterHour.forEach(function(v,i){
  var c=mk('circle',{cx:P.sx(i/4),cy:windY(v),r:2.7,fill:'#000'});
  
  
});
gustOffsetReadings.forEach(function(v,i){
  var c=mk('circle',{cx:P.sx(i/4+0.125),cy:windY(v),r:2.7,fill:'#000'});
  
  
});
var windHoursZig=[],windValsZig=[];
windHighHourly.forEach(function(v,h){
  windHoursZig.push(h);windValsZig.push(v);
  windHoursZig.push(h+(h<168?0.5:0));windValsZig.push(windLowHourly[h]);
});
var windLine=mk('path',{d:pathFrom(windHoursZig,windValsZig,P.sx,windY),fill:'none',stroke:'#5499d3','stroke-width':3.6,'stroke-linejoin':'round','stroke-linecap':'round'});


var pressLine=mk('path',{d:pathFrom(pressureHours,pressureValues,P.sx,pressY),fill:'none',stroke:'#9a1b1f','stroke-width':4.6,'stroke-linejoin':'round','stroke-linecap':'round'});



/* humidity panel */
P=panels.rh;
drawPanelFrame(P,'humidity',[20,40,60,80],rhY,[10,30,50,70,90],precipTicks,seq(0,1.7,0.1),precipY);
yLabels('humidity-y',rhTicks,rhTicks,rhY,84,'end');
yLabels('precip-y',precipTicks,precipTicks.map(function(v){return v.toFixed(1);}),precipY,449,'start');
var rhLine=mk('path',{d:pathFrom(rhHours,rhValues,P.sx,rhY),fill:'none',stroke:'#93cf55','stroke-width':4.8,'stroke-linejoin':'round','stroke-linecap':'round'});


var precipLine=mk('path',{d:pathFrom(precipHours,precipInches,P.sx,precipY),fill:'none',stroke:'#49b545','stroke-width':11.5,'stroke-linejoin':'round','stroke-linecap':'round'});



/* direction panel */
P=panels.dir;
drawPanelFrame(P,'direction',[90,180,270],dirY,[],directionTickDegrees,[],dirY);
yLabels('direction-y',directionTickDegrees,directionTickLabels,dirY,596,'end');
function speedColor(s){return speedColors[Math.min(10,Math.max(0,Math.floor(s/2)))];}
var dirRows=dirHours.map(function(h,i){return [h,dirDegrees[i],dirSpeeds[i]];});
for(var di=0;di<dirExtraHourDegreeSpeed.length;di+=3){
  dirRows.push([dirExtraHourDegreeSpeed[di],dirExtraHourDegreeSpeed[di+1],dirExtraHourDegreeSpeed[di+2]]);
}
dirRows.sort(function(a,b){return a[0]-b[0];});
dirRows.forEach(function(row){
  var c=mk('circle',{cx:P.sx(row[0]),cy:dirY(row[1]),r:3.4,fill:speedColor(row[2])});
  
  
});

/* colorbar */
speedLabels.forEach(function(lbl,i){
  var h=20.45,y=819-(i+1)*h;
  var r=mk('rect',{x:953,y:y,width:30.5,height:h+0.3,fill:speedColors[i]});
  
  
  var t=mk('text',{x:1007,y:y+h/2+5.4,'font-size':15,'text-anchor':'middle'});
  t.textContent=lbl;
  
  
});
</script>
</body>
</html>
